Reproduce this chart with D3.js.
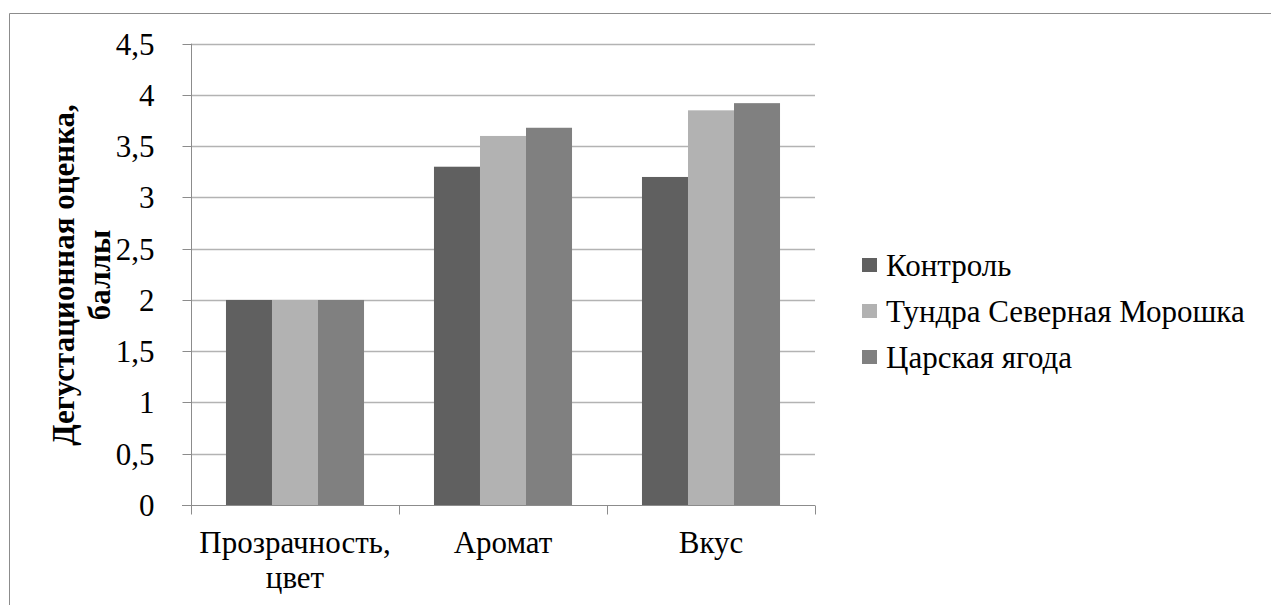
<!DOCTYPE html>
<html><head><meta charset="utf-8">
<script src="https://cdn.jsdelivr.net/npm/d3@7"></script>
</head><body style="margin:0">
<svg id="c" width="1271" height="605"></svg>
<script>
const categories = [["Прозрачность,", "цвет"], ["Аромат"], ["Вкус"]];
const seriesNames = ["Контроль", "Тундра Северная Морошка", "Царская ягода"];
const control = [2.0, 3.3, 3.2];
const tundra = [2.0, 3.6, 3.85];
const tsar = [2.0, 3.68, 3.92];
const yTicks = [0, 0.5, 1, 1.5, 2, 2.5, 3, 3.5, 4, 4.5];
const yTickLabels = ["0", "0,5", "1", "1,5", "2", "2,5", "3", "3,5", "4", "4,5"];
const yTitle = ["Дегустационная оценка,", "баллы"];
const colors = ["#606060", "#b2b2b2", "#808080"];
const series = [control, tundra, tsar];

const FONT = '"Liberation Serif"';
const FS = "31px";
const svg = d3.select("#c");
const L = 191, R = 815, T = 43.7, B = 505;

// outer frame
svg.append("path").attr("d", "M9.5,605 V13.5 H1271").attr("fill", "none").attr("stroke", "#8c8c8c").attr("stroke-width", 1);

const x0 = d3.scaleBand().domain(d3.range(categories.length)).range([L, R]).paddingInner(0).paddingOuter(0);
const x1 = d3.scaleBand().domain(d3.range(series.length)).range([0, x0.bandwidth()]).paddingInner(0).paddingOuter(0.76);
const y = d3.scaleLinear().domain([0, 4.5]).range([B, T]);

// gridlines
svg.append("g").selectAll("line").data(yTicks.filter(d => d > 0)).join("line")
  .attr("x1", L).attr("x2", R).attr("y1", d => Math.round(y(d)) + 0.5).attr("y2", d => Math.round(y(d)) + 0.5)
  .attr("stroke", "#b3b3b3").attr("stroke-width", 1.3);

// bars
const g = svg.append("g");
series.forEach((s, si) => {
  g.selectAll(null).data(s).join("rect")
    .attr("x", (d, i) => x0(i) + x1(si))
    .attr("width", x1.bandwidth())
    .attr("y", d => y(d))
    .attr("height", d => y(0) - y(d))
    .attr("fill", colors[si]);
});

// y axis
const yAxis = d3.axisLeft(y).tickValues(yTicks).tickFormat((d, i) => yTickLabels[i]).tickSize(9).tickPadding(28);
const ya = svg.append("g").attr("transform", `translate(${L + 0.5},0)`).call(yAxis);
ya.attr("font-family", null).attr("font-size", null);
ya.selectAll("text").style("font-family", FONT).style("font-size", FS).attr("fill", "#000").attr("dy", "0.34em");
ya.select(".domain").attr("stroke", "#8c8c8c").attr("d", `M0,${T}V${B}`);
ya.selectAll(".tick line").attr("stroke", "#8c8c8c");
ya.selectAll(".tick").attr("transform", d => `translate(0,${Math.round(y(d)) + 0.5})`);

// x axis
const xa = svg.append("g").attr("transform", `translate(0,${Math.round(B) + 0.5})`);
xa.append("line").attr("x1", L - 9).attr("x2", R).attr("stroke", "#8c8c8c");
const edges = d3.range(categories.length + 1).map(i => i < categories.length ? x0(i) : x0(i - 1) + x0.bandwidth());
xa.selectAll(".xt").data(edges).join("line").attr("class", "xt")
  .attr("x1", d => Math.round(d) + 0.5).attr("x2", d => Math.round(d) + 0.5).attr("y1", 0).attr("y2", 9).attr("stroke", "#8c8c8c");
categories.forEach((lines, i) => {
  const cx = x0(i) + x0.bandwidth() / 2;
  const t = xa.append("text").style("font-family", FONT).style("font-size", FS).attr("text-anchor", "middle")
    .attr("x", cx).attr("y", 47);
  lines.forEach((ln, j) => t.append("tspan").attr("x", cx).attr("dy", j === 0 ? 0 : 35).text(ln));
});

// y title
const yt = svg.append("text").style("font-family", FONT).style("font-size", FS).style("font-weight", "bold")
  .attr("text-anchor", "middle").attr("transform", "translate(74,275) rotate(-90)");
yTitle.forEach((ln, j) => yt.append("tspan").attr("x", 0).attr("dy", j === 0 ? 0 : 36).text(ln));

// legend
const lg = svg.append("g").attr("transform", "translate(862,0)");
seriesNames.forEach((n, i) => {
  const row = lg.append("g").attr("transform", `translate(0,${276 + i * 46})`);
  row.append("rect").attr("x", 0).attr("y", -18).attr("width", 15).attr("height", 14).attr("fill", colors[i]);
  row.append("text").attr("x", 24).attr("y", 0).style("font-family", FONT).style("font-size", FS).text(n);
});
</script></body></html>
